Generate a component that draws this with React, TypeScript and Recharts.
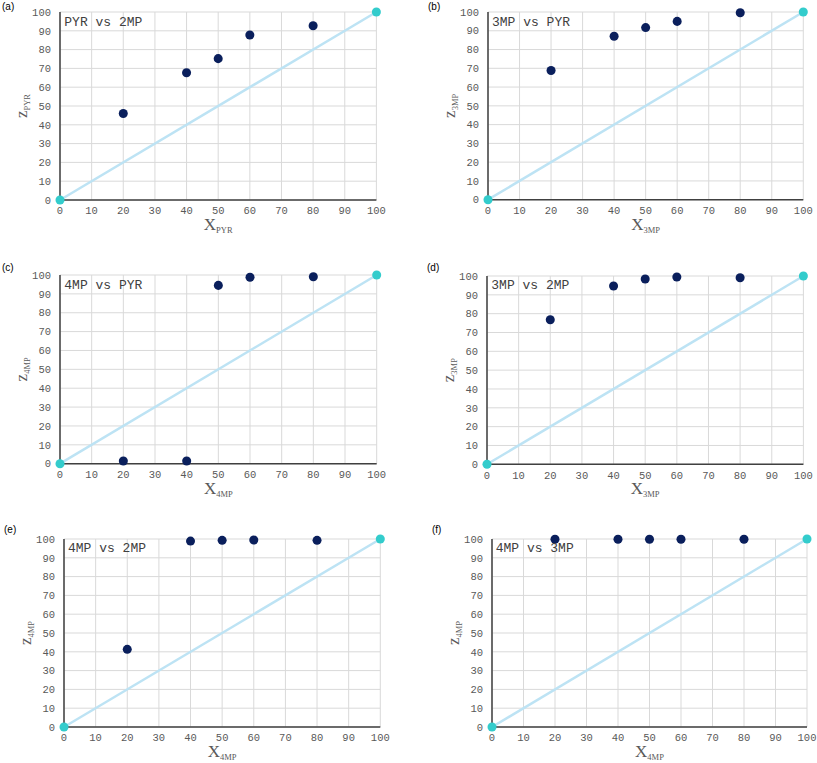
import React from 'react';
import { ScatterChart, Scatter, XAxis, YAxis, ZAxis, CartesianGrid } from 'recharts';

// ---------- data ----------
const AXIS_TICKS = [0, 10, 20, 30, 40, 50, 60, 70, 80, 90, 100];
const feedX = [20, 40, 50, 60, 80];
const zPanelA = [46, 67.7, 75.2, 87.8, 92.7];
const zPanelB = [68.8, 87.1, 91.7, 95.0, 99.6];
const zPanelC = [1.4, 1.4, 94.5, 98.8, 99.1];
const zPanelD = [76.8, 94.7, 98.4, 99.5, 99.1];
const zPanelE = [41.3, 98.9, 99.3, 99.5, 99.3];
const zPanelF = [99.9, 99.9, 99.9, 99.9, 99.9];
const diagonalX = [0, 100];
const diagonalZ = [0, 100];

const panelLetters = ['(a)', '(b)', '(c)', '(d)', '(e)', '(f)'];
const panelTitles = ['PYR vs 2MP', '3MP vs PYR', '4MP vs PYR', '3MP vs 2MP', '4MP vs 2MP', '4MP vs 3MP'];
const panelSubscripts = ['PYR', '3MP', '4MP', '3MP', '4MP', '4MP'];
const panelValues = [zPanelA, zPanelB, zPanelC, zPanelD, zPanelE, zPanelF];

// ---------- layout (plot boxes in page pixels) ----------
const boxes = [
  { L: 60.3, R: 376.7, T: 12, B: 200, lx: 2, ly: 10 },
  { L: 488, R: 803.3, T: 12.3, B: 200, lx: 428, ly: 10 },
  { L: 60.3, R: 377, T: 275.3, B: 464, lx: 2, ly: 271 },
  { L: 487.3, R: 803.7, T: 275.7, B: 464, lx: 427, ly: 271 },
  { L: 64, R: 380.3, T: 538.7, B: 726.7, lx: 4, ly: 533 },
  { L: 491.7, R: 806.7, T: 538.7, B: 726.7, lx: 432, ly: 533 },
];

const NAVY = '#0a1f5c';
const CYAN = '#33cccc';
const LINE = '#bde3f4';
const GRID = '#d9d9d9';
const AXIS = '#404040';
const TEXT = '#595959';
const MONO = "'Liberation Mono', 'DejaVu Sans Mono', monospace";
const SERIF = "'Liberation Serif', 'DejaVu Serif', serif";

const ML = 60;
const MT = 10;
const MR = 10;
const XH = 40;

function Panel({ idx }: { idx: number }) {
  const b = boxes[idx];
  const pw = b.R - b.L;
  const ph = b.B - b.T;
  const width = pw + ML + MR;
  const height = ph + MT + XH;
  const sub = panelSubscripts[idx];
  const points = feedX.map((x, i) => ({ x, z: panelValues[idx][i] }));
  const diag = diagonalX.map((x, i) => ({ x, z: diagonalZ[i] }));

  const xLabel = () => (
    <text x={ML + pw / 2} y={MT + ph + 30} textAnchor="middle" fill={TEXT} fontFamily={SERIF}>
      <tspan fontSize={17}>X</tspan>
      <tspan fontSize={8.5} dy={3}>{sub}</tspan>
    </text>
  );
  const yCx = ML - 33;
  const yCy = MT + ph / 2;
  const yLabel = () => (
    <text
      x={yCx}
      y={yCy}
      textAnchor="middle"
      fill={TEXT}
      fontFamily={SERIF}
      transform={`rotate(-90, ${yCx}, ${yCy})`}
    >
      <tspan fontSize={17}>z</tspan>
      <tspan fontSize={8.5} dy={3}>{sub}</tspan>
    </text>
  );

  const tickStyle = { fill: TEXT, fontSize: 10.5, fontFamily: MONO };

  return (
    <div style={{ position: 'absolute', left: b.L - ML, top: b.T - MT, width, height }}>
      <ScatterChart width={width} height={height} margin={{ top: MT, right: MR, bottom: 0, left: 0 }}>
        <CartesianGrid stroke={GRID} strokeWidth={1} />
        <XAxis
          type="number"
          dataKey="x"
          domain={[0, 100]}
          ticks={AXIS_TICKS}
          interval={0}
          tickLine={false}
          tickSize={0}
          tickMargin={7}
          height={XH}
          axisLine={{ stroke: AXIS, strokeWidth: 1.5 }}
          tick={tickStyle}
          label={xLabel}
        />
        <YAxis
          type="number"
          dataKey="z"
          domain={[0, 100]}
          ticks={AXIS_TICKS}
          interval={0}
          tickLine={false}
          tickSize={0}
          tickMargin={9}
          width={ML}
          axisLine={{ stroke: AXIS, strokeWidth: 1.5 }}
          tick={tickStyle}
          label={yLabel}
        />
        <ZAxis range={[50, 50]} />
        <Scatter
          data={diag}
          fill={CYAN}
          line={{ stroke: LINE, strokeWidth: 2.5 }}
          lineType="joint"
          isAnimationActive={false}
        />
        <Scatter data={points} fill={NAVY} isAnimationActive={false} />
      </ScatterChart>
    </div>
  );
}

export default function App() {
  return (
    <div style={{ position: 'absolute', left: 0, top: 0, width: 817, height: 763, background: '#fff' }}>
      {boxes.map((_, i) => (
        <Panel key={i} idx={i} />
      ))}
      <svg
        width={817}
        height={763}
        style={{ position: 'absolute', left: 0, top: 0, pointerEvents: 'none' }}
      >
        {boxes.map((b, i) => (
          <g key={i}>
            <text x={b.lx} y={b.ly} fontSize={10} fontFamily="'Liberation Sans', Arial, sans-serif" fill="#000">
              {panelLetters[i]}
            </text>
            <text x={b.L + 4} y={b.T + 13.5} fontSize={13} fontFamily={MONO} fill={AXIS}>
              {panelTitles[i]}
            </text>
          </g>
        ))}
      </svg>
    </div>
  );
}
